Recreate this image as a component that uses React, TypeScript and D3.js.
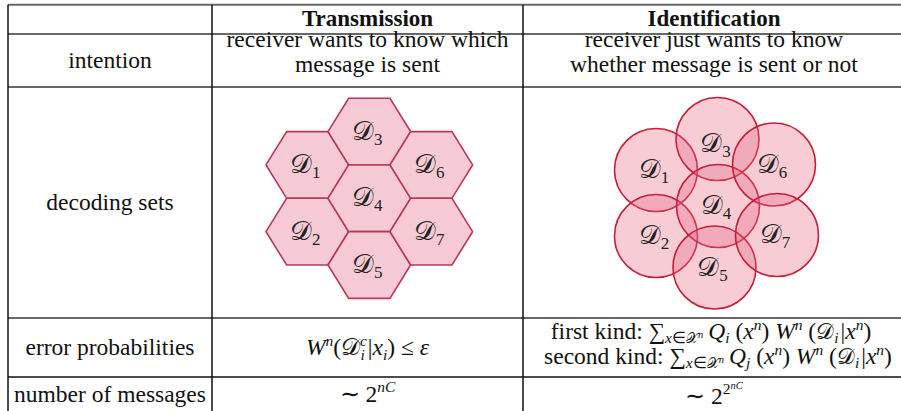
import React from "react";
import * as d3 from "d3";

const W = 901;
const H = 411;
const SERIF = "'Liberation Serif', 'Times New Roman', serif";
const SCRIPT = "'DejaVu Serif', 'Liberation Serif', serif";

const columns = ["Transmission", "Identification"];
const rowLabels = ["intention", "decoding sets", "error probabilities", "number of messages"];
const transmissionIntention = ["receiver wants to know which", "message is sent"];
const identificationIntention = ["receiver just wants to know", "whether message is sent or not"];

// decoding sets D1..D7
const setIndices = [1, 2, 3, 4, 5, 6, 7];
// honeycomb position (column, row) of each hexagonal set
const hexCol = [-1, -1, 0, 0, 0, 1, 1];
const hexRow = [-0.5, 0.5, -1, 0, 1, -0.5, 0.5];
// overlapping circles: centre offsets from D4
const circleDx = [-62, -62, -0.5, 0, -3.5, 56, 59];
const circleDy = [-36, 30, -67, 0, 61.5, -41.5, 29];

// identification error kinds
const errorKinds = ["first kind: ", "second kind: "];
const errorIndex = ["i", "j"];

// table grid
const rowEdges = [4.7, 34, 87, 318, 377, 411];
const colEdges = [8, 212, 523, 905];

const FS = 23.5;
const SUB = 15.5;

const Dset = ({ x, y, n }: { x: number; y: number; n: number }) => (
  <text x={x} y={y} textAnchor="middle" fontFamily={SERIF} fill="#222">
    <tspan fontFamily={SCRIPT} fontSize={27}>𝒟</tspan>
    <tspan fontSize={17} dy={5}>{n}</tspan>
  </text>
);

export default function App() {
  const colMid = (i: number) => (colEdges[i] + colEdges[i + 1]) / 2;
  const rowMid = (i: number) => (rowEdges[i] + rowEdges[i + 1]) / 2;

  // hexagons
  const hexX = d3.scaleLinear().domain([-1, 1]).range([307.3, 431.3]);
  const hexY = d3.scaleLinear().domain([-1, 1]).range([131.6, 265]);
  const rx = 41.3;
  const hh = 33.35;
  const hexPath = d3.line<[number, number]>().curve(d3.curveLinearClosed);
  const hexPts = (cx: number, cy: number): [number, number][] => [
    [cx - rx, cy],
    [cx - rx / 2, cy - hh],
    [cx + rx / 2, cy - hh],
    [cx + rx, cy],
    [cx + rx / 2, cy + hh],
    [cx - rx / 2, cy + hh],
  ];

  // circles
  const cirX = d3.scaleLinear().domain([-100, 100]).range([618, 818]);
  const cirY = d3.scaleLinear().domain([-100, 100]).range([106, 306]);
  const radius = 41.5;

  const sup = -9;

  return (
    <svg width={W} height={H} style={{ position: "absolute", left: 0, top: 0, background: "#fff" }}>
      {/* grid lines */}
      {rowEdges.slice(0, 4).map((y, i) => (
        <line key={"h" + i} x1={colEdges[0]} x2={W} y1={y} y2={y} stroke="#666" strokeWidth={2} />
      ))}
      <line x1={colEdges[0]} x2={W} y1={rowEdges[4]} y2={rowEdges[4]} stroke="#111" strokeWidth={1.5} />
      {colEdges.slice(0, 3).map((x, i) => (
        <line key={"v" + i} x1={x} x2={x} y1={rowEdges[0]} y2={H} stroke="#111" strokeWidth={1.5} />
      ))}

      {/* headers */}
      {columns.map((c, i) => (
        <text key={c} x={colMid(i + 1)} y={26} textAnchor="middle" fontFamily={SERIF} fontWeight="bold" fontSize={23} fill="#111">
          {c}
        </text>
      ))}

      {/* row labels */}
      {rowLabels.map((r, i) => (
        <text key={r} x={colMid(0)} y={rowMid(i + 1) + 7.5} textAnchor="middle" fontFamily={SERIF} fontSize={FS} fill="#111">
          {r}
        </text>
      ))}

      {/* intention */}
      {transmissionIntention.map((t, i) => (
        <text key={"ti" + i} x={colMid(1)} y={47 + i * 25} textAnchor="middle" fontFamily={SERIF} fontSize={FS} fill="#111">
          {t}
        </text>
      ))}
      {identificationIntention.map((t, i) => (
        <text key={"ii" + i} x={colMid(2)} y={47 + i * 25} textAnchor="middle" fontFamily={SERIF} fontSize={FS} fill="#111">
          {t}
        </text>
      ))}

      {/* transmission decoding sets: hexagons */}
      <g>
        {setIndices.map((n, i) => (
          <path
            key={"hx" + n}
            d={hexPath(hexPts(hexX(hexCol[i]), hexY(hexRow[i]))) || ""}
            fill="#f6cad4"
            stroke="#b8375a"
            strokeWidth={1.6}
          />
        ))}
        {setIndices.map((n, i) => (
          <Dset key={"hl" + n} x={hexX(hexCol[i]) - 2} y={hexY(hexRow[i]) + 8} n={n} />
        ))}
      </g>

      {/* identification decoding sets: circles */}
      <g>
        {setIndices.map((n, i) => (
          <circle
            key={"c" + n}
            cx={cirX(circleDx[i])}
            cy={cirY(circleDy[i])}
            r={radius}
            fill="#e8637f"
            fillOpacity={0.33}
            stroke="#c41e3a"
            strokeWidth={1.6}
          />
        ))}
        {setIndices.map((n, i) => (
          <Dset key={"cl" + n} x={cirX(circleDx[i]) - 2} y={cirY(circleDy[i]) + (n === 3 ? 13 : 8)} n={n} />
        ))}
      </g>

      {/* error probabilities: transmission */}
      <text x={colMid(1)} y={355} textAnchor="middle" fontFamily={SERIF} fontSize={FS} fill="#111">
        <tspan fontStyle="italic">W</tspan>
        <tspan fontSize={SUB} fontStyle="italic" dy={sup}>n</tspan>
        <tspan dy={-sup}>(</tspan>
        <tspan fontFamily={SCRIPT} fontSize={24}>𝒟</tspan>
        <tspan fontSize={SUB} fontStyle="italic" dy={sup}>c</tspan>
        <tspan fontSize={SUB} fontStyle="italic" dx={-6.5} dy={14}>i</tspan>
        <tspan dx={3} dy={-14 - sup}>|</tspan>
        <tspan fontStyle="italic">x</tspan>
        <tspan fontSize={SUB} fontStyle="italic" dy={5}>i</tspan>
        <tspan dy={-5}>)  ≤  </tspan>
        <tspan fontStyle="italic">ε</tspan>
      </text>

      {/* error probabilities: identification */}
      {errorKinds.map((k, i) => (
        <text key={k} x={colMid(2) + (i === 0 ? -3 : 4)} y={339 + i * 25} textAnchor="middle" fontFamily={SERIF} fontSize={FS} fill="#111">
          <tspan>{k}</tspan>
          <tspan fontSize={23}>∑</tspan>
          <tspan fontSize={SUB} fontStyle="italic" dy={4}>x</tspan>
          <tspan fontSize={SUB}>∈</tspan>
          <tspan fontSize={14} fontFamily={SCRIPT}>𝒳</tspan>
          <tspan fontSize={10.5} fontStyle="italic" dy={-5}>n</tspan>
          <tspan fontStyle="italic" dx={5} dy={1}>Q</tspan>
          <tspan fontSize={SUB} fontStyle="italic" dy={4}>{errorIndex[i]}</tspan>
          <tspan dy={-4}> (</tspan>
          <tspan fontStyle="italic">x</tspan>
          <tspan fontSize={SUB} fontStyle="italic" dy={sup}>n</tspan>
          <tspan dy={-sup}>) </tspan>
          <tspan fontStyle="italic">W</tspan>
          <tspan fontSize={SUB} fontStyle="italic" dy={sup}>n</tspan>
          <tspan dy={-sup}> (</tspan>
          <tspan fontFamily={SCRIPT} fontSize={22}>𝒟</tspan>
          <tspan fontSize={SUB} fontStyle="italic" dy={4}>i</tspan>
          <tspan dx={2} dy={-4}>|</tspan>
          <tspan fontStyle="italic">x</tspan>
          <tspan fontSize={SUB} fontStyle="italic" dy={sup}>n</tspan>
          <tspan dy={-sup}>)</tspan>
        </text>
      ))}

      {/* number of messages */}
      <text x={colMid(1)} y={402} textAnchor="middle" fontFamily={SERIF} fontSize={FS} fill="#111">
        <tspan>∼ 2</tspan>
        <tspan fontSize={SUB} fontStyle="italic" dy={-10}>nC</tspan>
      </text>
      <text x={colMid(2)} y={404} textAnchor="middle" fontFamily={SERIF} fontSize={FS} fill="#111">
        <tspan>∼ 2</tspan>
        <tspan fontSize={SUB} dy={-10}>2</tspan>
        <tspan fontSize={10.5} fontStyle="italic" dy={-5}>nC</tspan>
      </text>
    </svg>
  );
}
